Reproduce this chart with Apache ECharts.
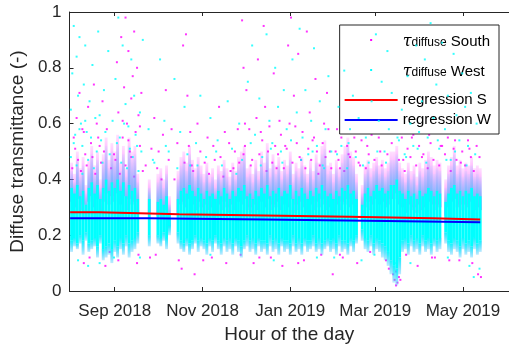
<!DOCTYPE html>
<html>
<head>
<meta charset="utf-8">
<script src="https://cdn.jsdelivr.net/npm/echarts@6/dist/echarts.min.js"></script>
<style>
  html, body { margin: 0; padding: 0; background: #ffffff; }
  #chart { width: 509px; height: 349px; }
</style>
</head>
<body>
<div id="chart"></div>
<script>
const DAY = 86400000;
const firstDay = Date.UTC(2018, 7, 1);          // day 0 of the measurement record
const axisStart = Date.UTC(2018, 6, 31, 14);
const axisEnd = Date.UTC(2019, 5, 2);

const xTickDates = ['2018-09-01', '2018-11-01', '2019-01-01', '2019-03-01', '2019-05-01'];
const xTickLabels = ['Sep 2018', 'Nov 2018', 'Jan 2019', 'Mar 2019', 'May 2019'];
const yTicks = [0, 0.2, 0.4, 0.6, 0.8, 1];
const yTickLabels = ['0', '0.2', '0.4', '0.6', '0.8', '1'];

// Two-day spread of the diffuse transmittance, starting 1 Aug 2018:
// [low tail, dense low, dense high, high tail]; null = no measurements
const spread = [
  [.14,.18,.37,.46],[.16,.19,.35,.42],[.15,.17,.38,.50],[.17,.20,.34,.44],[.13,.18,.36,.48],
  [.18,.21,.31,.38],[.14,.17,.37,.47],[.15,.18,.39,.52],[.16,.19,.35,.45],[.12,.16,.38,.50],
  [.17,.20,.33,.40],[.11,.15,.37,.49],[.12,.16,.40,.55],[.13,.17,.36,.47],[.10,.15,.39,.53],
  [.14,.18,.37,.50],[.12,.16,.40,.56],[.15,.19,.36,.46],[.13,.17,.39,.52],[.16,.20,.34,.44],
  [.12,.17,.38,.55],[.14,.18,.36,.50],[.15,.19,.37,.52],[.17,.21,.33,.42],null,
  null,null,[.16,.20,.33,.40],null,null,
  [.17,.20,.32,.42],[.16,.19,.33,.44],[.18,.21,.31,.40],[.15,.19,.34,.45],[.20,.23,.28,.34],
  null,null,[.17,.21,.33,.43],[.15,.18,.36,.48],[.14,.17,.37,.50],
  [.16,.19,.35,.46],[.13,.17,.38,.52],[.15,.18,.36,.47],[.17,.20,.34,.44],[.14,.18,.37,.48],
  [.16,.19,.35,.45],[.15,.18,.33,.42],[.13,.17,.36,.46],[.16,.19,.34,.42],[.14,.18,.35,.44],
  [.17,.20,.33,.40],[.15,.18,.36,.45],[.13,.17,.34,.43],[.16,.19,.37,.47],[.14,.18,.35,.44],
  [.15,.19,.33,.41],[.13,.17,.36,.46],[.16,.19,.34,.43],[.14,.18,.37,.48],[.12,.16,.36,.50],
  [.15,.18,.38,.52],[.16,.20,.34,.44],[.14,.18,.35,.45],[.15,.19,.33,.42],[.13,.17,.36,.47],
  [.16,.19,.34,.43],[.14,.18,.37,.50],[.15,.18,.35,.46],[.13,.17,.38,.53],[.16,.20,.34,.44],
  [.14,.18,.36,.49],[.15,.19,.35,.45],[.13,.17,.37,.48],[.16,.19,.34,.43],[.14,.18,.36,.47],
  [.15,.18,.35,.45],[.13,.17,.38,.50],[.16,.20,.33,.42],[.14,.17,.36,.46],[.15,.19,.34,.44],
  [.13,.17,.37,.48],[.16,.19,.35,.45],[.14,.18,.33,.42],[.15,.18,.36,.47],[.16,.20,.34,.43],
  [.14,.17,.37,.49],[.15,.19,.35,.46],[.13,.17,.38,.52],[.15,.18,.36,.54],[.16,.19,.34,.45],
  [.14,.18,.35,.46],[.15,.19,.33,.42],[.13,.17,.36,.47],[.16,.20,.34,.44],[.14,.18,.37,.49],
  [.15,.18,.36,.52],[.13,.17,.38,.55],[.16,.19,.35,.50],[.14,.18,.36,.48],[.17,.20,.33,.42],
  null,[.18,.22,.31,.38],[.15,.19,.35,.45],[.14,.18,.37,.47],[.16,.20,.34,.44],
  [.13,.17,.36,.46],[.15,.19,.38,.48],[.14,.18,.36,.45],[.12,.17,.37,.47],[.11,.16,.35,.44],
  [.09,.14,.36,.46],[.06,.11,.38,.50],[.03,.09,.38,.50],[.02,.08,.40,.52],[.06,.12,.36,.46],
  [.14,.18,.35,.44],[.15,.19,.33,.42],[.13,.17,.36,.46],[.16,.20,.34,.43],[.14,.18,.35,.45],
  [.15,.19,.33,.41],[.13,.17,.36,.46],[.16,.20,.34,.44],[.14,.18,.35,.47],[.15,.19,.37,.50],
  [.13,.17,.36,.48],[.16,.19,.34,.45],[.14,.18,.36,.47],[.15,.19,.35,.46],null,
  [.17,.21,.32,.40],[.14,.18,.35,.45],[.13,.17,.37,.48],[.15,.19,.38,.52],[.14,.18,.35,.45],
  [.12,.16,.36,.47],[.15,.19,.34,.44],[.13,.17,.36,.46],[.14,.18,.35,.45],[.12,.16,.37,.48],
  [.15,.19,.34,.44],[.13,.17,.35,.45],[.14,.18,.34,.44]
];

// Isolated South readings away from the dense band: [day since 1 Aug 2018, value]
const southPoints = [
  [2,.55],[4,.62],[6,.71],[8,.58],[10,.49],[12,.66],[14,.53],[16,.74],[18,.60],[20,.52],[22,.68],
  [31,.47],[32,.82],[33,.64],[35,.91],[36,.55],[37,.73],[38,.98],[39,.60],[40,.86],[41,.50],
  [42,.69],[43,.77],[44,.93],[45,.57],[46,.80],[47,.63],[48,.52],[49,.71],
  [13,.12],[24,.09],[27,.14],[46,.10],[47,.13],
  [52,.45],[55,.12],[58,.62],[61,.50],[63,.40],[66,.72],[70,.58],[75,.11],[77,.08],[78,.88],
  [80,.92],[81,.70],[82,.52],[84,.45],[86,.06],[88,.60],
  [95,.55],[98,.12],[100,.47],[103,.66],[106,.41],[108,.10],[110,.53],[113,.44],[116,.58],
  [118,.13],[120,.49],
  [119,.97],[120,.80],[121,.60],[122,.72],[125,.45],[127,.10],[130,.83],[132,.57],[134,.95],
  [135,.66],[137,.50],[139,.12],[141,.78],[143,.44],[145,.61],[147,.09],[149,.52],[151,.88],
  [153,.98],[155,.70],[156,.59],[158,.85],[160,.47],[162,.11],[164,.93],[166,.64],[168,.54],
  [170,.76],[172,.42],[174,.13],[176,.60],[178,.71],[180,.50],[182,.06],
  [185,.58],[187,.44],[189,.12],[191,.67],[193,.49],[195,.62],[197,.55],[199,.10],[201,.45],
  [204,.72],[206,.52],[208,.14],[210,.60],
  [213,.80],[215,.50],[217,.66],[219,.11],[222,.92],[224,.58],[225,.04],[226,.02],[227,.03],
  [228,.05],[226,.07],[229,.70],[231,.47],[233,.13],[235,.85],[237,.55],[239,.62],[241,.09],
  [243,.74],[245,.49],[247,.90],[249,.56],[251,.12],[253,.67],[255,.95],[257,.52],[259,.79],
  [261,.61],[263,.11],[265,.87],[267,.54],[269,.70],[271,.46],
  [273,.63],[275,.82],[277,.51],[279,.10],[281,.58],[283,.06],[284,.48],
  [1,.44],[3,.51],[5,.47],[7,.43],[9,.57],[11,.45],[15,.48],[17,.42],[19,.55],[21,.46],[23,.50],
  [25,.58],[28,.44],[30,.49],[34,.42],[36,.61],[38,.45],[40,.54],[42,.48],[44,.41],[48,.59],
  [50,.43],[56,.51],[60,.44],[64,.56],[68,.47],[72,.40],[74,.53],[79,.46],[83,.57],[85,.43],
  [90,.50],[93,.46],[96,.42],[99,.52],[104,.48],[107,.57],[111,.43],[114,.50],[117,.46],
  [121,.52],[124,.58],[126,.47],[129,.62],[131,.49],[133,.54],[136,.43],[138,.59],[140,.46],
  [142,.52],[144,.49],[146,.56],[148,.44],[150,.51],[152,.60],[154,.46],[157,.53],[159,.48],
  [161,.57],[163,.44],[165,.51],[167,.47],[169,.55],[171,.50],[173,.45],[175,.53],[177,.48],
  [179,.58],[181,.44],[184,.50],[186,.47],[188,.55],[190,.43],[192,.52],[194,.48],[196,.57],
  [198,.50],[200,.46],[202,.54],[205,.44],[207,.49],[209,.56],[211,.47],[214,.55],[216,.45],
  [218,.58],[220,.49],[223,.53],[226,.60],[228,.47],[230,.55],[232,.43],[234,.51],[236,.48],
  [238,.56],[240,.45],[242,.52],[244,.48],[246,.57],[248,.44],[250,.53],[252,.47],[254,.60],
  [256,.45],[258,.52],[260,.49],[262,.55],[264,.43],[266,.51],[268,.47],[270,.58],[272,.50],
  [274,.45],[276,.54],[278,.48],[280,.43],[282,.52],
  [9,.10],[33,.11],[59,.13],[92,.11],[131,.12],[158,.10],[187,.13],[221,.08],[224,.06],
  [229,.04],[253,.12],[270,.11],[285,.05]
];

// Isolated West readings: [day since 1 Aug 2018, value]
const westPoints = [
  [0,.65],[1,.78],[2,.95],[3,.56],[4,.84],[5,.70],[6,.91],[7,.60],[8,.52],[9,.74],[10,.88],
  [11,.57],[13,.68],[15,.81],[17,.62],[19,.93],[21,.54],[23,.72],
  [26,.86],[29,.61],[31,.76],[33,.98],[34,.55],[36,.88],[38,.67],[40,.59],[42,.83],[44,.70],
  [46,.52],[48,.64],[50,.90],
  [5,.11],[12,.09],[20,.10],[30,.12],
  [54,.58],[57,.47],[62,.83],[65,.61],[68,.50],[72,.76],[76,.57],[79,.66],[83,.45],[87,.53],[90,.70],
  [94,.48],[97,.62],[102,.54],[105,.45],[109,.68],[112,.51],[115,.42],[117,.60],
  [123,.75],[126,.88],[128,.56],[131,.69],[133,.48],[136,.92],[138,.61],[140,.53],[142,.80],
  [144,.66],[146,.50],[148,.72],[150,.58],
  [154,.83],[157,.64],[159,.94],[161,.55],[163,.72],[165,.49],[167,.61],[169,.87],[171,.52],
  [173,.68],[175,.45],[177,.58],[179,.77],[181,.50],[183,.12],
  [186,.66],[188,.52],[190,.79],[192,.44],[194,.58],[196,.70],[198,.48],[200,.62],[202,.11],
  [205,.55],[207,.46],[209,.68],
  [212,.92],[214,.61],[216,.75],[218,.50],[220,.86],[221,.58],[223,.71],[225,.10],[227,.12],
  [228,.54],[230,.65],[232,.49],[234,.77],[236,.60],[238,.52],[240,.88],[242,.57],
  [244,.68],[246,.83],[248,.55],[250,.96],[252,.62],[254,.74],[256,.51],[258,.89],[260,.58],
  [262,.70],[264,.47],[266,.85],[268,.63],[270,.54],[272,.78],
  [274,.66],[276,.52],[278,.71],[280,.05],[282,.60],[284,.08],
  [0,.48],[2,.53],[4,.45],[6,.58],[8,.42],[10,.61],[12,.47],[14,.55],[16,.44],[18,.50],[20,.63],
  [22,.46],[24,.57],[27,.49],[32,.53],[35,.46],[37,.60],[39,.44],[41,.51],[43,.48],[45,.56],
  [47,.43],[49,.50],[58,.46],[66,.52],[74,.44],[81,.49],[88,.45],[101,.50],[119,.47],[125,.53],
  [132,.45],[139,.51],[147,.46],[153,.54],[160,.47],[168,.50],[176,.44],[185,.49],[193,.53],
  [203,.45],[213,.50],[219,.46],[227,.55],[233,.48],[241,.51],[247,.46],[255,.54],[261,.47],
  [267,.50],[275,.45],[281,.49],
  [48,.12],[97,.13],[141,.11],[171,.12],[211,.13],[236,.10],[262,.12],[277,.09]
];

// Piecewise-constant regression fits (value holds until the next date)
const regSouthDates = ['2018-08-01', '2018-08-21', '2018-10-16', '2018-12-14', '2019-02-11', '2019-04-10', '2019-05-13'];
const regSouthValues = [0.282, 0.275, 0.271, 0.266, 0.261, 0.256, 0.256];
const regWestDates = ['2018-08-01', '2018-09-24', '2018-12-15', '2019-03-09', '2019-05-13'];
const regWestValues = [0.261, 0.256, 0.251, 0.246, 0.246];

const FONT = '"Liberation Sans", Arial, Helvetica, sans-serif';
const INK = '#262626';
const SOUTH = '#FF00FF';
const WEST = '#00FFFF';

const spreadData = [];
spread.forEach((s, i) => {
  if (!s) return;
  spreadData.push([firstDay + 2 * i * DAY, firstDay + (2 * i + 2) * DAY, s[0], s[1], s[2], s[3]]);
});
const toPoint = p => [firstDay + (p[0] + 0.5) * DAY, p[1]];
const stepLine = (dates, values) => dates.map((d, i) => [Date.parse(d), values[i]]);

// layers: which spread columns bound each rectangle, and its top / bottom colour
function spreadRenderer(layers) {
  return function (params, api) {
    const t0 = api.value(0), t1 = api.value(1);
    const v = [api.value(2), api.value(3), api.value(4), api.value(5)];
    const children = layers.map(L => {
      const a = api.coord([t0, v[L.from] + (L.dFrom || 0)]);
      const b = api.coord([t1, v[L.to] + (L.dTo || 0)]);
      const fill = L.top === L.bottom ? L.top : new echarts.graphic.LinearGradient(0, 0, 0, 1, [
        { offset: 0, color: L.top }, { offset: 1, color: L.bottom }
      ]);
      return {
        type: 'rect',
        shape: { x: a[0], y: b[1], width: b[0] - a[0], height: a[1] - b[1] },
        style: { fill }
      };
    });
    return { type: 'group', children };
  };
}

const tickValues = xTickDates.map(d => Date.parse(d));
const dotIcon = 'path://M0,0M53,14M25.5,6h2v2h-2z';
const lineIcon = 'path://M0,0M53,14M0,6h53v2h-53z';

const chart = echarts.init(document.getElementById('chart'), null, { renderer: 'canvas' });
chart.setOption({
  animation: false,
  backgroundColor: '#ffffff',
  grid: { left: 67, top: 12, right: -6, bottom: 58, containLabel: false },
  xAxis: [{
    type: 'value', min: axisStart, max: axisEnd,
    name: 'Hour of the day', nameLocation: 'middle', nameGap: 34,
    nameTextStyle: { fontFamily: FONT, fontSize: 19, color: INK },
    axisLine: { show: true, lineStyle: { color: INK, width: 1 } },
    axisTick: { show: true, inside: true, length: 4, customValues: tickValues, lineStyle: { color: INK } },
    axisLabel: {
      customValues: tickValues, margin: 12, fontFamily: FONT, fontSize: 17, color: INK,
      formatter: val => xTickLabels[tickValues.indexOf(val)] || ''
    },
    splitLine: { show: false }
  }, {
    type: 'value', min: axisStart, max: axisEnd, position: 'top',
    axisLine: { show: true, onZero: false, lineStyle: { color: INK, width: 1 } },
    axisTick: { show: true, inside: true, length: 4, customValues: tickValues, lineStyle: { color: INK } },
    axisLabel: { show: false },
    splitLine: { show: false }
  }],
  yAxis: {
    type: 'value', min: 0, max: 1, interval: 0.2,
    name: 'Diffuse transmittance (-)', nameLocation: 'middle', nameGap: 37,
    nameTextStyle: { fontFamily: FONT, fontSize: 19, color: INK },
    axisLine: { show: true, lineStyle: { color: INK, width: 1 } },
    axisTick: { show: true, inside: true, length: 4, lineStyle: { color: INK } },
    axisLabel: {
      margin: 8, fontFamily: FONT, fontSize: 17, color: INK,
      formatter: val => yTickLabels[yTicks.findIndex(t => Math.abs(t - val) < 1e-9)]
    },
    splitLine: { show: false }
  },
  legend: {
    orient: 'vertical', right: 10, top: 25,
    padding: [6, 8, 5, 5], itemGap: 2,
    itemWidth: 53, itemHeight: 14,
    backgroundColor: '#ffffff', borderColor: INK, borderWidth: 1,
    selectedMode: false,
    textStyle: {
      fontFamily: FONT, fontSize: 15, color: '#000000', lineHeight: 18,
      rich: {
        t: { fontFamily: '"DejaVu Serif", serif', fontStyle: 'italic', fontSize: 16, color: '#000', lineHeight: 18, padding: [3, 0, 9, 0], verticalAlign: 'top' },
        s: { fontFamily: FONT, fontSize: 12, color: '#000', lineHeight: 14, verticalAlign: 'bottom' },
        n: { fontFamily: FONT, fontSize: 15, color: '#000', lineHeight: 18, padding: [3, 0, 9, 0], verticalAlign: 'top' }
      }
    },
    formatter: name => {
      if (name === 'South' || name === 'West') return '{t|τ}{s|diffuse}{n| ' + name + '}';
      return name;
    },
    data: [
      { name: 'South', icon: dotIcon, itemStyle: { color: SOUTH, borderWidth: 0 } },
      { name: 'West', icon: dotIcon, itemStyle: { color: WEST, borderWidth: 0 } },
      { name: 'regression S', icon: lineIcon, itemStyle: { color: '#FF0000', borderWidth: 0 } },
      { name: 'regression W', icon: lineIcon, itemStyle: { color: '#0000FF', borderWidth: 0 } }
    ]
  },
  series: [
    {
      name: 'South', type: 'custom', clip: true, z: 2,
      itemStyle: { color: SOUTH },
      encode: { x: [0, 1], y: [2, 3, 4, 5] },
      renderItem: spreadRenderer([
        { from: 2, dFrom: -0.05, to: 3, top: 'rgba(255,0,255,0.12)', bottom: 'rgba(255,0,255,0.75)' },
        { from: 0, to: 1, top: 'rgba(255,0,255,0.35)', bottom: 'rgba(255,0,255,0.1)' }
      ]),
      data: spreadData
    },
    {
      name: 'South', type: 'scatter', z: 3, symbol: 'rect', symbolSize: 2,
      itemStyle: { color: SOUTH }, data: southPoints.map(toPoint)
    },
    {
      name: 'West', type: 'custom', clip: true, z: 4,
      itemStyle: { color: WEST },
      encode: { x: [0, 1], y: [2, 3, 4, 5] },
      renderItem: spreadRenderer([
        { from: 0, to: 1, top: 'rgba(0,255,255,0.95)', bottom: 'rgba(0,255,255,0.25)' },
        { from: 1, to: 2, top: WEST, bottom: WEST },
        { from: 2, to: 3, dTo: -0.03, top: 'rgba(0,255,255,0.05)', bottom: 'rgba(0,255,255,0.5)' }
      ]),
      data: spreadData
    },
    {
      name: 'West', type: 'scatter', z: 5, symbol: 'rect', symbolSize: 2,
      itemStyle: { color: WEST }, data: westPoints.map(toPoint)
    },
    {
      name: 'regression S', type: 'line', z: 6, step: 'end', showSymbol: false, symbol: 'none',
      lineStyle: { color: '#FF0000', width: 2 }, itemStyle: { color: '#FF0000' },
      data: stepLine(regSouthDates, regSouthValues)
    },
    {
      name: 'regression W', type: 'line', z: 6, step: 'end', showSymbol: false, symbol: 'none',
      lineStyle: { color: '#0000FF', width: 2 }, itemStyle: { color: '#0000FF' },
      data: stepLine(regWestDates, regWestValues)
    }
  ]
});
</script>
</body>
</html>
